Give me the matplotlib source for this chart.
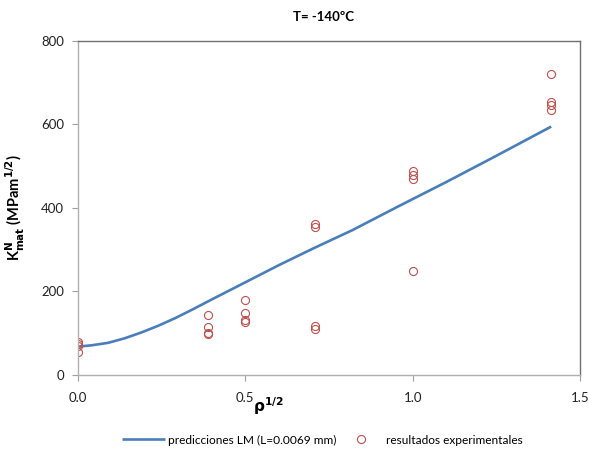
import matplotlib.pyplot as plt
from matplotlib.ticker import FormatStrFormatter

plt.rcParams['font.family'] = ['Lato', 'DejaVu Sans']

# LM prediction curve (L = 0.0069 mm)
pred_x = [0.0, 0.04, 0.09, 0.14, 0.19, 0.24, 0.29, 0.34, 0.40, 0.50, 0.60, 0.70,
          0.82, 0.96, 1.1, 1.25, 1.414]
pred_y = [68, 71, 77, 88, 102, 118, 136, 156, 181, 222, 263, 302,
          347, 405, 462, 525, 595]

# experimental results
exp_x = [0.0, 0.0, 0.0, 0.0,
         0.387, 0.387, 0.387, 0.387,
         0.5, 0.5, 0.5, 0.5,
         0.707, 0.707, 0.707, 0.707,
         1.0, 1.0, 1.0, 1.0,
         1.414, 1.414, 1.414, 1.414]
exp_y = [79, 74, 70, 54,
         144, 115, 101, 97,
         180, 148, 132, 127,
         361, 355, 118, 110,
         489, 480, 469, 249,
         720, 655, 646, 635]

x_ticks = [0.0, 0.5, 1.0, 1.5]
y_ticks = [0, 200, 400, 600, 800]

fig = plt.figure(figsize=(5.89, 4.5), dpi=100)
ax = fig.add_axes([0.1324, 0.1667, 0.8523, 0.7422])

ax.plot(pred_x, pred_y, color='#4a7ebb', lw=1.9, solid_joinstyle='round',
        solid_capstyle='butt', label='predicciones LM (L=0.0069 mm)')
ax.plot(exp_x, exp_y, 'o', mfc='none', mec='#c0504d', mew=0.8, ms=5.8,
        label='resultados experimentales')

ax.set_xlim(0, 1.5)
ax.set_ylim(0, 800)
ax.set_xticks(x_ticks)
ax.set_yticks(y_ticks)
ax.xaxis.set_major_formatter(FormatStrFormatter('%.1f'))
ax.tick_params(axis='both', direction='out', length=4, color='#a0a0a0',
               labelsize=9.5, labelcolor='#222222', pad=6)
ax.tick_params(axis='x', pad=8)

for side in ['left', 'bottom']:
    ax.spines[side].set_color('#b0b0b0')
for side in ['top', 'right']:
    ax.spines[side].set_color('#707070')
for sp in ax.spines.values():
    sp.set_linewidth(1.0)

fig.text(0.55, 0.963, 'T= -140ºC', ha='center', va='center', fontsize=9.5, fontweight='bold')
fig.text(0.455, 0.098, r'$\mathbf{\rho}^{\mathbf{1/2}}$', ha='center', va='center', fontsize=11)
ax.set_ylabel(r'K$^{\mathbf{N}}_{\mathbf{mat}}$ (MPam$^{\mathbf{1/2}}$)', fontsize=10.5,
              fontweight='bold', labelpad=10)

ax.legend(loc='center', bbox_to_anchor=(0.547, 0.022), bbox_transform=fig.transFigure,
          ncol=2, frameon=False, fontsize=8.6, handlelength=3.6, columnspacing=0.2,
          handletextpad=0.3)

fig.savefig('out.png', dpi=100)
